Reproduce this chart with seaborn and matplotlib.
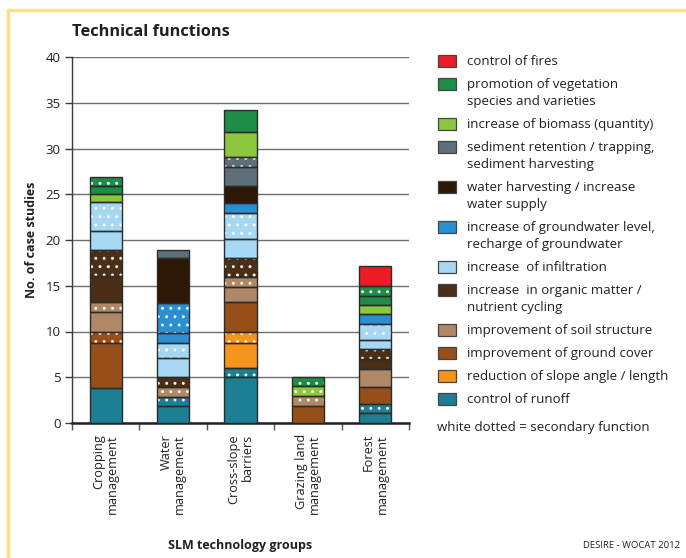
import numpy as np
import matplotlib.pyplot as plt
import seaborn as sns
from matplotlib.patches import Rectangle
from matplotlib.lines import Line2D

groups = ["Cropping\nmanagement", "Water\nmanagement", "Cross-slope\nbarriers",
          "Grazing land\nmanagement", "Forest\nmanagement"]

# technical functions, bottom of the stack first
functions = ["control of runoff",
             "reduction of slope angle / length",
             "improvement of ground cover",
             "improvement of soil structure",
             "increase  in organic matter /\nnutrient cycling",
             "increase  of infiltration",
             "increase of groundwater level,\nrecharge of groundwater",
             "water harvesting / increase\nwater supply",
             "sediment retention / trapping,\nsediment harvesting",
             "increase of biomass (quantity)",
             "promotion of vegetation\nspecies and varieties",
             "control of fires"]
colors = ["#1c7f93", "#f7941d", "#974f19", "#b08866", "#4b2e16", "#a6d8f4",
          "#2a8ed2", "#2d1705", "#5f6f79", "#8dc63f", "#1f8c47", "#ed1c24"]

# main function (solid), one row per function, one column per group
primary = [
    [3.8, 1.85, 5.0, 0, 1.05],    # runoff
    [0, 0, 2.75, 0, 0],           # slope
    [4.95, 0, 3.2, 1.85, 1.9],    # ground cover
    [2.1, 0, 1.7, 0, 1.95],       # soil structure
    [2.9, 0, 0, 0, 1.1],          # organic matter
    [2.1, 2.05, 2.1, 0, 1.0],     # infiltration
    [0, 1.15, 1.0, 0, 1.05],      # groundwater
    [0, 4.9, 1.9, 0, 0],          # water harvesting
    [0, 0.95, 2.1, 0, 0],         # sediment
    [0.9, 0, 2.7, 0, 1.0],        # biomass
    [0.9, 0, 2.4, 0, 1.0],        # vegetation
    [0, 0, 0, 0, 2.25],           # fires
]
# secondary function (white dotted)
secondary = [
    [0, 1.0, 1.0, 0, 1.0],
    [0, 0, 1.25, 0, 0],
    [1.25, 0, 0, 0, 0],
    [1.1, 1.05, 1.1, 1.05, 0],
    [2.8, 1.1, 2.0, 0, 1.05],
    [3.1, 1.65, 2.9, 0, 1.8],
    [0, 3.25, 0, 0, 0],
    [0, 0, 0, 0, 0],
    [0, 0, 1.1, 0, 0],
    [0, 0, 0, 1.1, 0],
    [1.0, 0, 0, 1.05, 1.05],
    [0, 0, 0, 0, 0],
]

sns.set_style("white")
plt.rcParams['font.family'] = ['Open Sans', 'DejaVu Sans']
plt.rcParams['hatch.linewidth'] = 0.9

W, H = 686, 558
fig = plt.figure(figsize=(W / 100, H / 100), dpi=100)
ax = fig.add_axes([72 / W, 135 / H, 337 / W, 366 / H])

x = np.arange(len(groups))
bw = 0.475
edge = "#2b2b2b"
bottom = np.zeros(len(groups))
for i in range(len(functions)):
    for vals, dotted in ((primary[i], False), (secondary[i], True)):
        v = np.array(vals, dtype=float)
        m = v > 0
        if not m.any():
            continue
        ax.bar(x[m], v[m], bottom=bottom[m], width=bw, color=colors[i],
               edgecolor="white", linewidth=0, hatch=".." if dotted else None, zorder=3)
        ax.bar(x[m], v[m], bottom=bottom[m], width=bw, fill=False,
               edgecolor=edge, linewidth=1.0, zorder=4)
        bottom = bottom + v

ax.set_xlim(-0.5, 4.5)
ax.set_ylim(0, 40)
ax.set_yticks(range(0, 41, 5))
ax.grid(axis='y', color="#6d6e70", linewidth=1.0, zorder=0)
ax.set_axisbelow(True)
for s in ("top", "right"):
    ax.spines[s].set_visible(False)
ax.spines["left"].set_color("#3a3a3a")
ax.spines["left"].set_linewidth(1.0)
ax.spines["bottom"].set_color("#222222")
ax.spines["bottom"].set_linewidth(1.8)
ax.tick_params(axis='y', direction='out', length=5, width=1, color="#3a3a3a",
               labelsize=9.5, labelcolor="#231f20", pad=3, left=True)
ax.set_xticks(x)
ax.set_xticklabels(groups, rotation=90, ha='center', va='top', ma='right',
                   fontsize=9.2, color="#231f20", linespacing=1.05)
ax.tick_params(axis='x', length=0, pad=8)
ax.set_xticks(np.arange(-0.5, 5, 1), minor=True)
ax.tick_params(axis='x', which='minor', direction='out', length=5, width=1,
               color="#555555", bottom=True)

ax.set_ylabel("No. of case studies", fontsize=9, fontweight='bold',
              color="#231f20")
ax.yaxis.set_label_coords((38 - 72) / 337, 0.5)
fig.text(72 / W, 1 - 32 / H, "Technical functions", fontsize=11.8,
         fontweight='bold', color="#231f20", ha='left', va='center')
fig.text(240 / W, 1 - 546 / H, "SLM technology groups", fontsize=9,
         fontweight='bold', color="#231f20", ha='center', va='center')
fig.text(680 / W, 1 - 546 / H, "DESIRE - WOCAT 2012", fontsize=6.8,
         color="#231f20", ha='right', va='center')

# legend, top entry first
ly = 60.7
for i in range(len(functions) - 1, -1, -1):
    fig.add_artist(Rectangle((438 / W, 1 - (ly + 6) / H), 18 / W, 12 / H,
                             facecolor=colors[i], edgecolor="#444444",
                             linewidth=0.9, transform=fig.transFigure))
    fig.text(467 / W, 1 - (ly - 6) / H, functions[i], fontsize=9.5,
             color="#231f20", ha='left', va='top', linespacing=1.4)
    ly += 23 + 17 * functions[i].count("\n")
fig.text(437 / W, 1 - 428 / H, "white dotted = secondary function",
         fontsize=9.5, color="#231f20", ha='left', va='center')

# page frame
frame = "#fde08a"
fig.add_artist(Line2D([8 / W, 8 / W], [0, 1 - 10 / H], color=frame, lw=2.5,
                      transform=fig.transFigure))
fig.add_artist(Line2D([8 / W, 1], [1 - 10 / H, 1 - 10 / H], color=frame, lw=2.5,
                      transform=fig.transFigure))

fig.savefig("out.png", dpi=100)
